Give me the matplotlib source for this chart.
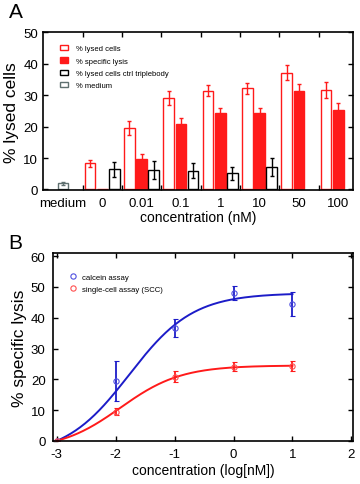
# -*- coding: utf-8 -*-
"""
Two-panel figure: lysis bar chart (A) and dose-response curves (B).
"""

import numpy as np
import matplotlib
matplotlib.use('Agg')
import matplotlib.pyplot as plt
from matplotlib.patches import Patch
from matplotlib.lines import Line2D

plt.rcParams['font.family'] = ['Liberation Sans', 'DejaVu Sans']
plt.rcParams['axes.unicode_minus'] = False

# ---- panel A data ----
groups = ['medium', '0', '0.01', '0.1', '1', '10', '50', '100']
medium_val = [2.0]
medium_err = [0.5]
lysed = [8.3, 19.6, 29.2, 31.5, 32.2, 37.2, 31.7]
lysed_err = [1.2, 2.2, 2.3, 1.7, 1.7, 2.4, 2.6]
specific = [0.0, 9.7, 20.9, 24.4, 24.5, 31.5, 25.2]
specific_err = [0.0, 1.6, 2.0, 1.4, 1.6, 2.2, 2.2]
ctrl = [6.4, 6.2, 5.9, 5.1, 7.2]          # only for 0 .. 10 nM
ctrl_err = [2.4, 2.9, 2.4, 2.0, 2.9]

# ---- panel B data ----
log_conc = [-3, -2, -1, 0, 1]
calcein = [0.0, 19.4, 36.7, 48.1, 44.4]
calcein_err = [0.0, 6.6, 2.8, 2.3, 3.9]
scc = [0.0, 9.5, 20.8, 24.1, 24.3]
scc_err = [0.0, 1.2, 1.8, 1.4, 1.6]
# fitted sigmoid parameters: bottom, top, logEC50, hill
calcein_fit = (-5.0, 48.0, -1.77, 0.80)
scc_fit = (-3.0, 24.5, -1.92, 0.845)

RED = '#ff1a1a'
BLUE = '#1c1cc8'
GREY = '#5f7070'


def sigmoid(x, params):
    """Four parameter logistic in log concentration."""
    bottom, top, logec, hill = params
    return bottom + (top - bottom) / (1 + 10 ** ((logec - x) * hill))


fig = plt.figure(figsize=(3.6, 4.85), dpi=100)

# ================= panel A =================
axA = fig.add_axes([0.119, 0.606, 0.862, 0.325])
w = 0.27
off = 0.31
pos = np.arange(1, len(groups))
ekw = dict(lw=1.0, capthick=1.0, capsize=1.6)

axA.bar([0], medium_val, w, facecolor='white', edgecolor=GREY, lw=1.0)
axA.errorbar([0], medium_val, yerr=medium_err, fmt='none', ecolor=GREY, **ekw)

axA.bar(pos - off, lysed, w, facecolor='white', edgecolor=RED, lw=1.0)
axA.errorbar(pos - off, lysed, yerr=lysed_err, fmt='none', ecolor=RED, **ekw)

axA.bar(pos, specific, w, facecolor=RED, edgecolor=RED, lw=1.0)
axA.errorbar(pos[1:], specific[1:], yerr=specific_err[1:], fmt='none',
             ecolor=RED, **ekw)

cpos = pos[:len(ctrl)] + off
axA.bar(cpos, ctrl, w, facecolor='white', edgecolor='black', lw=1.0)
axA.errorbar(cpos, ctrl, yerr=ctrl_err, fmt='none', ecolor='black', **ekw)

axA.set_xlim(-0.51, 7.38)
axA.set_ylim(-0.2, 50)
axA.set_yticks(range(0, 51, 10))
axA.set_xticks(np.arange(0.5, 7, 1.0))
axA.set_xticklabels([])
# group labels as minor ticks without tick marks
axA.set_xticks(range(len(groups)), minor=True)
axA.set_xticklabels(groups, minor=True)
axA.tick_params(axis='x', which='minor', length=0, pad=5, labelsize=9.5)
axA.tick_params(axis='both', which='major', direction='in', top=True,
                right=True, length=3.5, width=1.0, labelsize=9.5)
axA.tick_params(axis='x', which='major', pad=5)
for sp in axA.spines.values():
    sp.set_linewidth(1.2)
axA.set_xlabel('concentration (nM)', fontsize=10, labelpad=1)
axA.set_ylabel('% lysed cells', fontsize=12.5, labelpad=3)

handlesA = [
    Patch(facecolor='white', edgecolor=RED, lw=1.0),
    Patch(facecolor=RED, edgecolor=RED, lw=1.0),
    Patch(facecolor='white', edgecolor='black', lw=1.0),
    Patch(facecolor='white', edgecolor=GREY, lw=1.0),
]
labelsA = ['% lysed cells', '% specific lysis',
           '% lysed cells ctrl triplebody', '% medium']
axA.legend(handlesA, labelsA, loc='upper left', bbox_to_anchor=(0.045, 0.94),
           frameon=False, fontsize=5.5, handlelength=1.1, handleheight=0.7,
           handletextpad=1.0, labelspacing=0.65, borderaxespad=0)

fig.text(0.045, 0.975, 'A', fontsize=15, ha='center', va='center')

# ================= panel B =================
axB = fig.add_axes([0.146, 0.089, 0.835, 0.387])
xfit = np.linspace(log_conc[0], log_conc[-1], 200)
axB.plot(xfit, sigmoid(xfit, calcein_fit), color=BLUE, lw=1.4)
axB.plot(xfit, sigmoid(xfit, scc_fit), color=RED, lw=1.4)
axB.errorbar(log_conc, calcein, yerr=calcein_err, fmt='o', color=BLUE,
             mfc='none', mec='#5050e0', ms=3.8, mew=0.8, capsize=1.8,
             elinewidth=1.3, capthick=1.3)
axB.errorbar(log_conc, scc, yerr=scc_err, fmt='o', color=RED,
             mfc='none', mec='#ff5050', ms=3.8, mew=0.8, capsize=1.8,
             elinewidth=1.3, capthick=1.3)

axB.set_xlim(-3.07, 2.03)
axB.set_ylim(0, 61)
axB.set_xticks(range(-3, 3))
axB.set_yticks(range(0, 61, 10))
axB.tick_params(axis='both', direction='in', top=True, right=True,
                length=3.5, width=1.0, labelsize=9.5, pad=5)
for sp in axB.spines.values():
    sp.set_linewidth(1.2)
axB.set_xlabel('concentration (log[nM])', fontsize=10, labelpad=2)
axB.set_ylabel('% specific lysis', fontsize=12.5, labelpad=3)

handlesB = [
    Line2D([], [], ls='none', marker='o', mfc='none', mec='#5050e0',
           ms=3.8, mew=0.8),
    Line2D([], [], ls='none', marker='o', mfc='none', mec='#ff5050',
           ms=3.8, mew=0.8),
]
axB.legend(handlesB, ['calcein assay', 'single-cell assay (SCC)'],
           loc='upper left', bbox_to_anchor=(0.045, 0.91), frameon=False,
           fontsize=5.6, handlelength=1.0, handletextpad=0.6,
           labelspacing=0.6, borderaxespad=0)

fig.text(0.042, 0.497, 'B', fontsize=15, ha='center', va='center')

plt.savefig('out.png', dpi=100)
